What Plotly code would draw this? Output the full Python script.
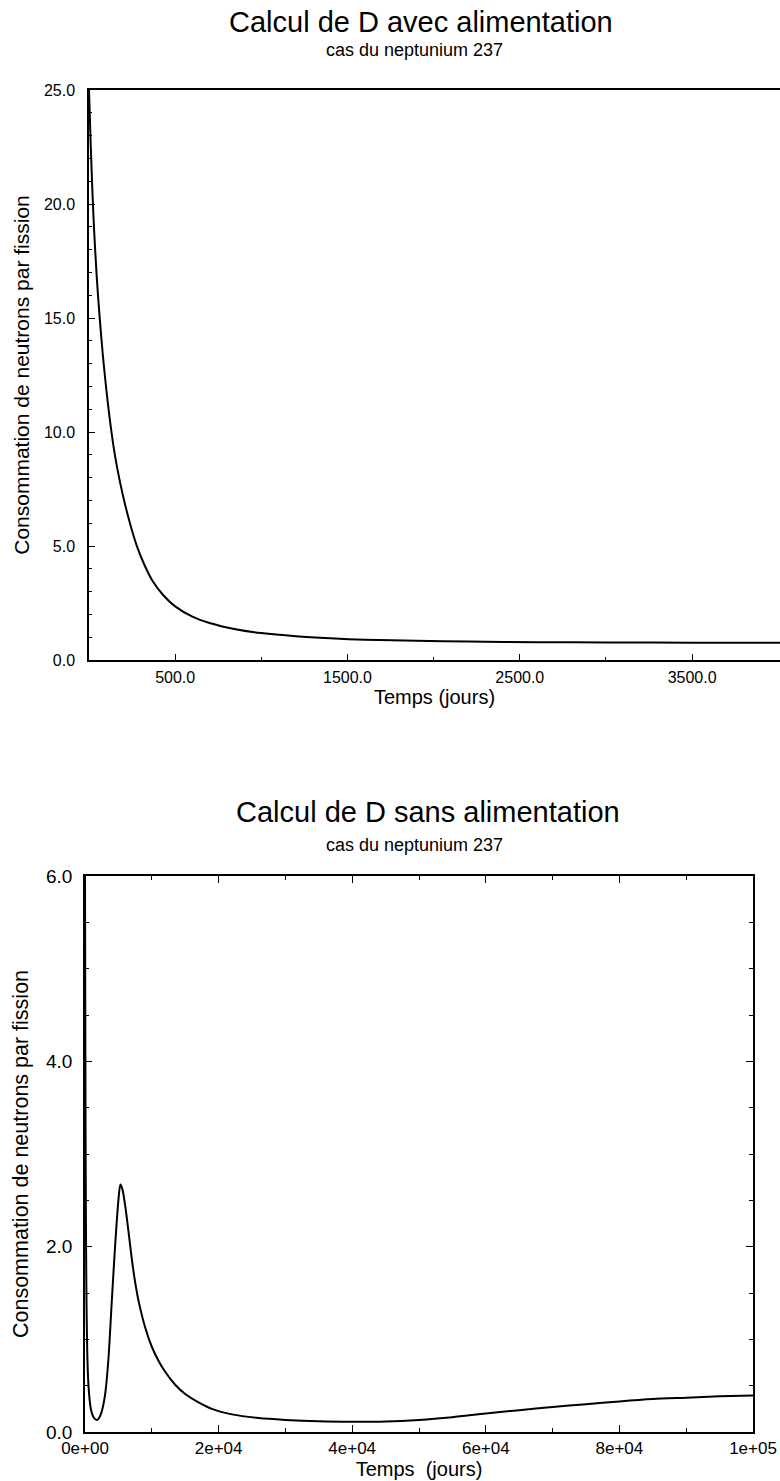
import plotly.graph_objects as go

# ---- Data: top chart (with feeding) ----
t_avec = [0, 10, 20, 30, 45, 60, 80, 100, 125, 150, 180, 210, 245, 280, 320, 370,
          430, 500, 600, 700, 850, 1000, 1200, 1400, 1600, 1900, 2200, 2600, 3000,
          3500, 4000, 4100]
d_avec = [25.0, 22.6, 20.5, 18.8, 16.8, 15.2, 13.4, 11.9, 10.3, 9.0, 7.8, 6.8, 5.8,
          4.95, 4.2, 3.45, 2.85, 2.35, 1.9, 1.62, 1.35, 1.18, 1.04, 0.95, 0.89, 0.84,
          0.81, 0.78, 0.77, 0.76, 0.76, 0.76]

# ---- Data: bottom chart (without feeding) ----
t_sans = [0, 40, 80, 130, 200, 300, 450, 650, 900, 1200, 1500, 1800, 2100, 2500,
          3000, 3500, 4000, 4500, 5000, 5300, 5600, 6000, 6500, 7000, 7500, 8000,
          9000, 10000, 11000, 12000, 13500, 15000, 17000, 19000, 22000, 26000,
          30000, 35000, 40000, 45000, 50000, 55000, 60000, 65000, 70000, 75000,
          80000, 85000, 90000, 95000, 100000]
d_sans = [6.0, 4.6, 3.4, 2.4, 1.6, 1.0, 0.6, 0.38, 0.24, 0.17, 0.14, 0.13, 0.15,
          0.22, 0.40, 0.78, 1.40, 2.0, 2.5, 2.67, 2.62, 2.45, 2.17, 1.87, 1.62,
          1.42, 1.13, 0.92, 0.77, 0.65, 0.51, 0.41, 0.32, 0.25, 0.19, 0.15, 0.13,
          0.115, 0.11, 0.113, 0.13, 0.16, 0.20, 0.235, 0.27, 0.30, 0.33, 0.355,
          0.37, 0.385, 0.395]

top_xticks = [500, 1500, 2500, 3500]
top_xlabels = ["500.0", "1500.0", "2500.0", "3500.0"]
top_yticks = [0, 5, 10, 15, 20, 25]
top_ylabels = ["0.0", "5.0", "10.0", "15.0", "20.0", "25.0"]
bot_xticks = [0, 20000, 40000, 60000, 80000, 100000]
bot_xlabels = ["0e+00", "2e+04", "4e+04", "6e+04", "8e+04", "1e+05"]
bot_yticks = [0, 2, 4, 6]
bot_ylabels = ["0.0", "2.0", "4.0", "6.0"]

W, H = 780, 1481
FONT = "Liberation Sans, Arial, Helvetica, sans-serif"

def px_x(p):
    return p / W

def px_y(p):
    return 1 - p / H

fig = go.Figure()
fig.add_trace(go.Scatter(x=t_avec, y=d_avec, mode="lines", xaxis="x", yaxis="y",
                         line=dict(color="black", width=2, shape="spline", smoothing=0.8),
                         showlegend=False))
fig.add_trace(go.Scatter(x=t_sans, y=d_sans, mode="lines", xaxis="x2", yaxis="y2",
                         line=dict(color="black", width=2, shape="spline", smoothing=0.8),
                         showlegend=False))

axis_common = dict(showgrid=False, zeroline=False, showline=True, linecolor="black",
                   linewidth=1.5, ticks="inside", tickcolor="black", tickwidth=1,
                   color="black", automargin=False)

fig.update_layout(
    template="none",
    width=W, height=H, margin=dict(l=0, r=0, t=0, b=0, pad=0),
    paper_bgcolor="white", plot_bgcolor="white",
    font=dict(family=FONT, color="black"),
    xaxis=dict(**axis_common, domain=[px_x(89), 1.0], range=[0, 4010], anchor="y",
               mirror=True, tickmode="array", tickvals=top_xticks, ticktext=top_xlabels,
               ticklen=6, tickfont=dict(size=16), ticklabelstandoff=2,
               minor=dict(ticks="inside", ticklen=3, tickvals=[1000, 2000, 3000],
                          tickcolor="black"),
               title=dict(text="Temps (jours)", font=dict(size=20), standoff=5)),
    yaxis=dict(**axis_common, domain=[px_y(660), px_y(90)], range=[0, 25], anchor="x",
               tickmode="array", tickvals=top_yticks, ticktext=top_ylabels,
               ticklen=6, tickfont=dict(size=16), ticklabelstandoff=9,
               minor=dict(ticks="inside", ticklen=3, dtick=1, tick0=0, tickcolor="black"),
               title=dict(text="Consommation de neutrons par fission",
                          font=dict(size=21), standoff=9)),
    xaxis2=dict(**axis_common, domain=[px_x(85), px_x(753)], range=[0, 100000],
                anchor="y2", mirror="ticks", tickmode="array", tickvals=bot_xticks,
                ticktext=bot_xlabels, ticklen=7, tickfont=dict(size=17),
                minor=dict(ticks="inside", ticklen=4, dtick=10000, tick0=0,
                           tickcolor="black"),
                title=dict(text="Temps&nbsp;&nbsp;(jours)", font=dict(size=20), standoff=0)),
    yaxis2=dict(**axis_common, domain=[px_y(1432), px_y(876)], range=[0, 6],
                anchor="x2", mirror="ticks", tickmode="array", tickvals=bot_yticks,
                ticktext=bot_ylabels, ticklen=7, tickfont=dict(size=19),
                ticklabelstandoff=7,
                minor=dict(ticks="inside", ticklen=4, dtick=0.5, tick0=0,
                           tickcolor="black"),
                title=dict(text="Consommation de neutrons par fission",
                           font=dict(size=21.5), standoff=12)),
    annotations=[
        dict(text="Calcul de D avec alimentation", x=px_x(421), y=px_y(22),
             xref="paper", yref="paper", showarrow=False, font=dict(size=29),
             xanchor="center", yanchor="middle"),
        dict(text="cas du neptunium 237", x=px_x(414), y=px_y(50),
             xref="paper", yref="paper", showarrow=False, font=dict(size=18),
             xanchor="center", yanchor="middle"),
        dict(text="Calcul de D sans alimentation", x=px_x(428), y=px_y(812),
             xref="paper", yref="paper", showarrow=False, font=dict(size=29),
             xanchor="center", yanchor="middle"),
        dict(text="cas du neptunium 237", x=px_x(414), y=px_y(845),
             xref="paper", yref="paper", showarrow=False, font=dict(size=18),
             xanchor="center", yanchor="middle"),
    ],
)

fig.write_html("out.html", config={"displayModeBar": False},
               post_script="document.body.style.margin='0';document.body.style.overflow='hidden';")
